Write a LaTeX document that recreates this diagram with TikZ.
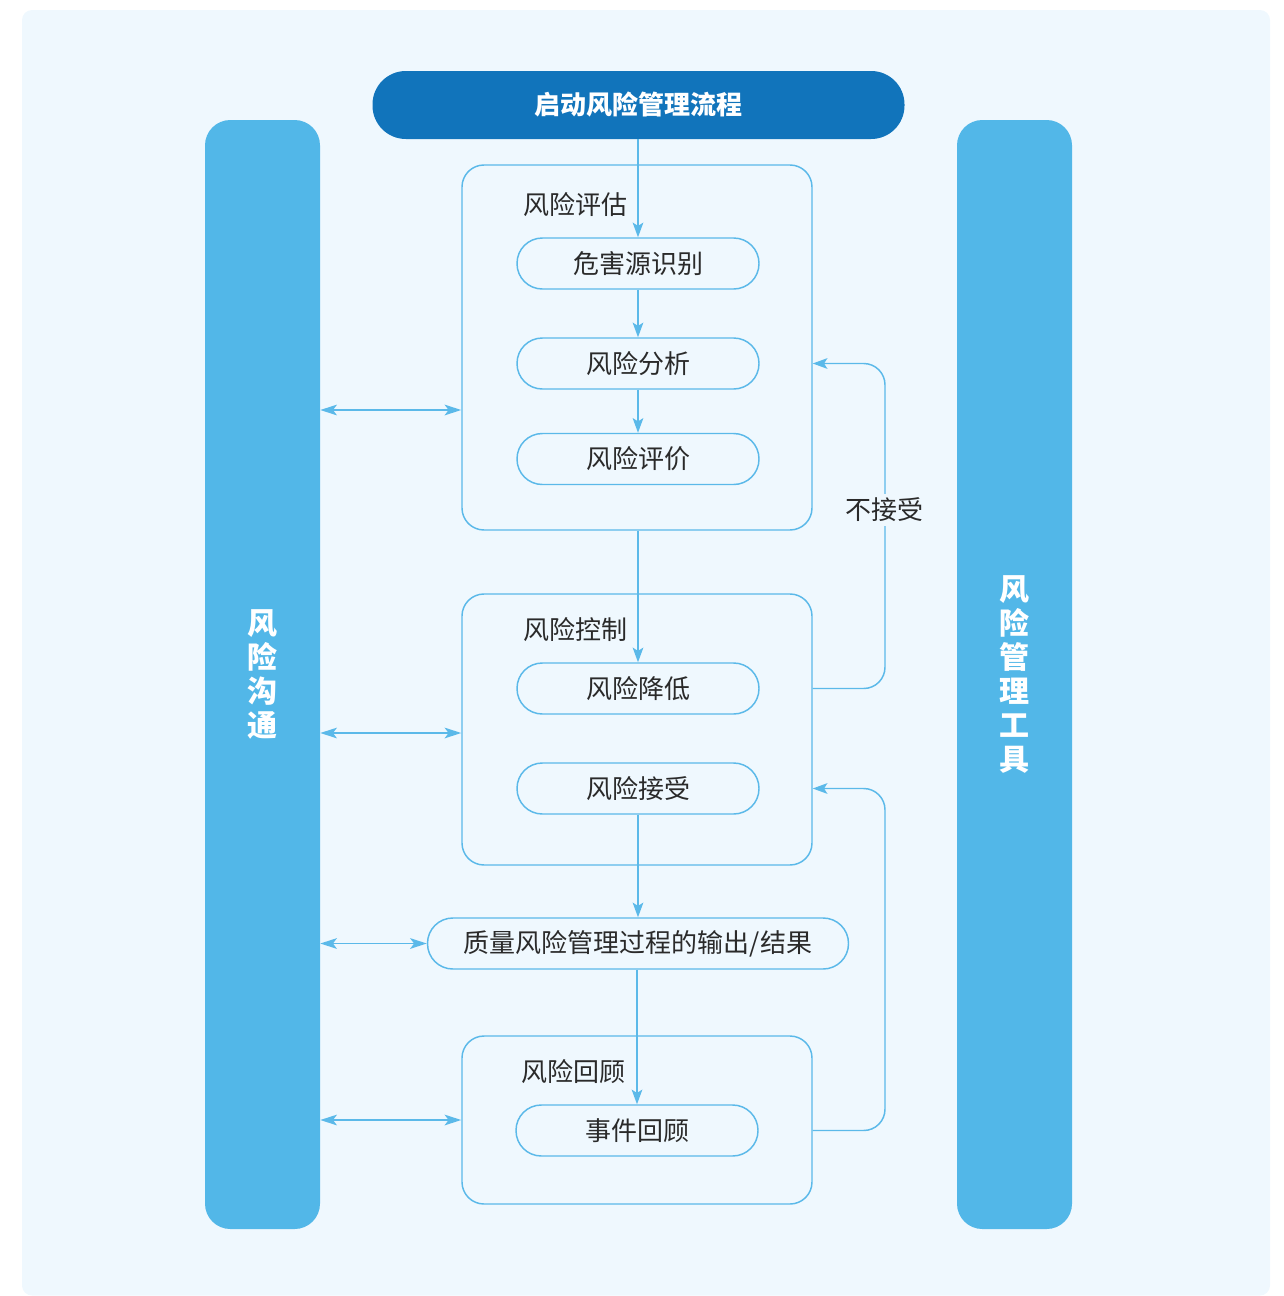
\documentclass[tikz,border=0pt]{standalone}
\usepackage{fontspec}
\setmainfont{Noto Sans CJK SC}
\usetikzlibrary{arrows.meta,calc}
\definecolor{bgc}{HTML}{EFF8FE}
\definecolor{barc}{HTML}{52B7E8}
\definecolor{titc}{HTML}{1174BB}
\definecolor{linec}{HTML}{5BB9E9}
\definecolor{txtc}{HTML}{2A2A2A}
\tikzset{
  pillbox/.style={draw=linec, line width=1.1pt, fill=bgc, rounded corners=19pt,
    minimum width=181.5pt, minimum height=38.25pt, inner sep=0pt,
    text=txtc, font=\fontsize{19.5pt}{22pt}\selectfont},
  groupbox/.style={draw=linec, line width=1.1pt, rounded corners=16.5pt,
    minimum width=262.5pt, inner sep=0pt},
  grouplabel/.style={text=txtc, font=\fontsize{19.5pt}{22pt}\selectfont, inner sep=0pt},
  sidebar/.style={fill=barc, rounded corners=19pt, minimum width=86.25pt,
    minimum height=831.75pt, inner sep=0pt, text=white, align=center,
    font=\fontsize{22.5pt}{25.5pt}\selectfont\bfseries},
  flow/.style={draw=linec, line width=1.1pt, -{Stealth[length=11pt,width=8pt,inset=2.5pt]}},
  dflow/.style={draw=linec, line width=1.1pt, {Stealth[length=12.5pt,width=8pt,inset=3pt]}-{Stealth[length=12.5pt,width=8pt,inset=3pt]}},
}
\begin{document}
\begin{tikzpicture}[x={(0.75pt,0)}, y={(0,-0.75pt)}]
\useasboundingbox (0,0) rectangle (1283,1296);
\fill[bgc, rounded corners=7.5pt] (22,10) rectangle (1270,1295.5);

% side bars
\node[sidebar] (lbar) at (262.5,674.5) {风\\险\\沟\\通};
\node[sidebar] (rbar) at (1014.5,674.5) {风\\险\\管\\理\\工\\具};

% title
\node[fill=titc, rounded corners=25pt, minimum width=399pt, minimum height=51pt,
  inner sep=0pt, text=white, font=\fontsize{19.5pt}{22pt}\selectfont\bfseries]
  (title) at (638.5,105) {启动风险管理流程};

% groups
\node[groupbox, minimum height=273.75pt] (g1) at (637,347.5) {};
\node[groupbox, minimum height=203.25pt] (g2) at (637,729.5) {};
\node[groupbox, minimum height=126pt] (g3) at (637,1120) {};
\node[grouplabel] (l1) at (575,205) {风险评估};
\node[grouplabel] (l2) at (575,630) {风险控制};
\node[grouplabel] (l3) at (573,1072) {风险回顾};

% pills
\node[pillbox] (p1) at (638,263.5) {危害源识别};
\node[pillbox] (p2) at (638,363.5) {风险分析};
\node[pillbox] (p3) at (638,459) {风险评价};
\node[pillbox] (p4) at (638,688.5) {风险降低};
\node[pillbox] (p5) at (638,788.5) {风险接受};
\node[pillbox, minimum width=315.75pt] (out) at (638,943.5) {质量风险管理过程的输出/结果};
\node[pillbox] (p6) at (637,1130.5) {事件回顾};

% vertical flow
\draw[flow] (title.south -| p1) -- (p1.north);
\draw[flow] (p1) -- (p2);
\draw[flow] (p2) -- (p3);
\draw[flow] (g1.south -| p4) -- (p4.north);
\draw[flow] (p5) -- (out);
\draw[flow] (out.south -| p6) -- (p6.north);

% communication arrows
\draw[dflow] (lbar.east |- 0,410) -- (g1.west |- 0,410);
\draw[dflow] (lbar.east |- 0,733) -- (g2.west |- 0,733);
\draw[dflow] (lbar.east |- 0,943.5) -- (out.west);
\draw[dflow] (lbar.east |- 0,1120) -- (g3.west |- 0,1120);

% feedback loops
\coordinate (lx) at (885,0);
\draw[flow, rounded corners=16pt] (g2.east |- p4) -| (lx |- p2) -- (g1.east |- p2);
\node[fill=bgc, inner sep=3pt, text=txtc, font=\fontsize{19.5pt}{22pt}\selectfont] (na) at (884,510) {不接受};
\draw[flow, rounded corners=16pt] (g3.east |- p6) -| (lx |- p5) -- (g2.east |- p5);
\end{tikzpicture}
\end{document}
